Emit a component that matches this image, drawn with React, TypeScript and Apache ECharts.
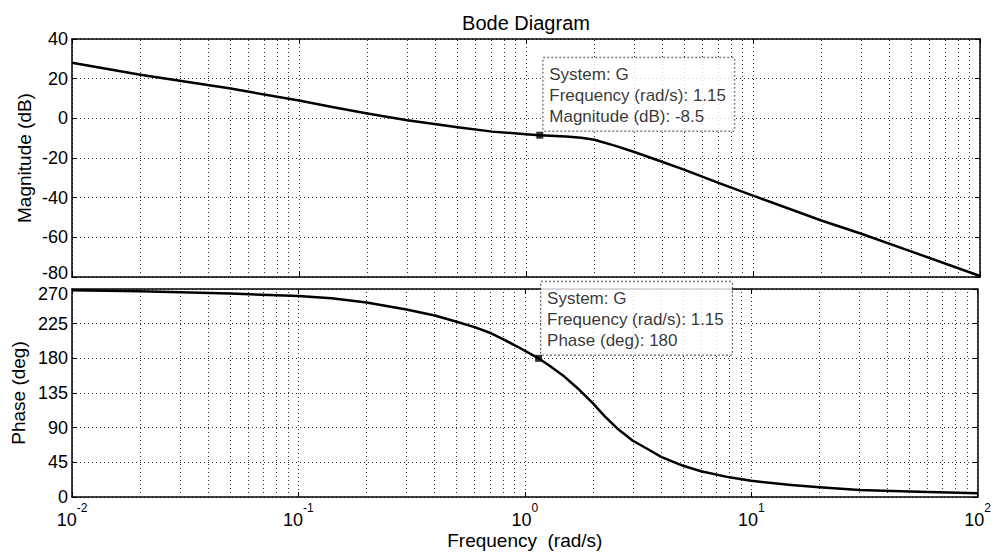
import React, { useEffect, useRef } from 'react';
import * as echarts from 'echarts';

// ---- data ----
const magFreq = [0.01, 0.02, 0.05, 0.1, 0.14, 0.2, 0.3, 0.5, 0.71, 1.0, 1.15, 1.5, 1.75, 2.0, 2.5, 3.0, 4.0, 5.0, 7.0, 10, 20, 30, 50, 100];
const magDb = [28, 22, 15, 9, 5.7, 2.4, -1, -4.5, -6.7, -8, -8.5, -9.1, -9.8, -10.8, -14, -17, -22, -26, -32.4, -39, -51.5, -58.2, -67.2, -79.5];

const phaseFreq = [0.01, 0.02, 0.05, 0.1, 0.14, 0.2, 0.3, 0.4, 0.5, 0.6, 0.71, 0.8, 0.93, 1.15, 1.3, 1.5, 1.75, 2.0, 2.25, 2.56, 3.0, 3.5, 4.0, 5.0, 6.0, 8.0, 10, 15, 20, 30, 50, 100];
const phaseDeg = [268.5, 267, 264, 261, 258, 252.5, 243.5, 235.5, 227.5, 220.5, 212.5, 205, 195, 180, 169.5, 156, 138.5, 121.5, 105, 89, 73, 62, 52, 40.5, 33.5, 25.5, 21, 15.6, 12.5, 9, 7, 5];

const minorGridFreqs = [
  0.02, 0.03, 0.04, 0.05, 0.06, 0.07, 0.08, 0.09,
  0.2, 0.3, 0.4, 0.5, 0.6, 0.7, 0.8, 0.9,
  2, 3, 4, 5, 6, 7, 8, 9,
  20, 30, 40, 50, 60, 70, 80, 90,
];

const tipSystem = 'G';
const tipFreq = 1.15;
const tipMag = -8.5;
const tipPhase = 180;

const magTicks = { min: -80, max: 40, interval: 20 };
const phaseTicks = { min: 0, max: 270, interval: 45 };
const freqRange = { min: 0.01, max: 100 };

const titleText = 'Bode Diagram';
const xName = 'Frequency  (rad/s)';
const magName = 'Magnitude (dB)';
const phaseName = 'Phase (deg)';

// ---- styling ----
const FONT = '"Liberation Sans", Arial, Helvetica, sans-serif';
const dotted = { color: '#333', width: 1, type: [1, 3] as number[] };
const frameLine = { lineStyle: { color: '#000', width: 1.5 } };
const inTick = { show: true, inside: true, length: 5, lineStyle: { color: '#000', width: 1 } };
const tickFont = { fontFamily: FONT, fontSize: 18, color: '#000' };

function logX(gridIndex: number, position: 'top' | 'bottom', labels: boolean, name?: string) {
  return {
    type: 'log',
    logBase: 10,
    gridIndex,
    position,
    min: freqRange.min,
    max: freqRange.max,
    axisLine: { show: true, onZero: false, ...frameLine },
    axisTick: inTick,
    splitLine: { show: position === 'bottom', lineStyle: dotted },
    minorTick: { show: false },
    name: name || '',
    nameLocation: 'middle',
    nameGap: 34,
    nameMoveOverlap: false,
    nameTextStyle: { fontFamily: FONT, fontSize: 19, color: '#000' },
    axisLabel: labels
      ? {
          show: true,
          margin: 5,
          formatter: (v: number) => `{b|10}{s|${Math.round(Math.log10(v))}}`,
          rich: {
            b: { ...tickFont },
            s: { fontFamily: FONT, fontSize: 12, color: '#000', padding: [0, 0, 23, 0] },
          },
        }
      : { show: false },
  };
}

function valY(
  gridIndex: number,
  position: 'left' | 'right',
  t: { min: number; max: number; interval: number },
  name: string,
  nameGap: number,
  edgeShift: 'min' | 'max',
) {
  const left = position === 'left';
  return {
    type: 'value',
    gridIndex,
    position,
    min: t.min,
    max: t.max,
    interval: t.interval,
    axisLine: { show: true, onZero: false, ...frameLine },
    axisTick: inTick,
    splitLine: { show: left, lineStyle: dotted },
    axisLabel: left
      ? {
          show: true,
          margin: 4,
          ...tickFont,
          formatter: (v: number) => {
            if (edgeShift === 'min' && v === t.min) return `{up|${v}}`;
            if (edgeShift === 'max' && v === t.max) return `{dn|${v}}`;
            return `${v}`;
          },
          rich: {
            up: { ...tickFont, padding: [0, 0, 9, 0] },
            dn: { ...tickFont, padding: [9, 0, 0, 0] },
          },
        }
      : { show: false },
    name: left ? name : '',
    nameLocation: 'middle',
    nameGap,
    nameMoveOverlap: false,
    nameTextStyle: { fontFamily: FONT, fontSize: 19, color: '#000' },
  };
}

const minorMarkLine = {
  silent: true,
  symbol: ['none', 'none'],
  z: 1,
  label: { show: false },
  emphasis: { disabled: true },
  lineStyle: dotted,
  data: minorGridFreqs.map((f) => ({ xAxis: f })),
};

const tipLabel = (text: string, offset: number[]) => ({
  show: true,
  position: offset,
  formatter: text,
  fontFamily: FONT,
  fontSize: 17,
  lineHeight: 21,
  color: '#000',
  align: 'left',
  verticalAlign: 'top',
  width: 180,
  backgroundColor: '#fff',
  borderColor: '#333',
  borderWidth: 1,
  borderType: 'dotted',
  padding: [6, 5, 4, 6],
});

const option = {
  animation: false,
  backgroundColor: '#fff',
  grid: [
    { left: 72, top: 39, width: 908, height: 238, containLabel: false },
    { left: 72, top: 289, width: 908, height: 208, containLabel: false },
  ],
  xAxis: [
    logX(0, 'bottom', false),
    logX(0, 'top', false),
    logX(1, 'bottom', true, xName),
    logX(1, 'top', false),
  ],
  yAxis: [
    valY(0, 'left', magTicks, magName, 38, 'min'),
    valY(0, 'right', magTicks, '', 0, 'min'),
    valY(1, 'left', phaseTicks, phaseName, 44, 'max'),
    valY(1, 'right', phaseTicks, '', 0, 'max'),
  ],
  graphic: [
    {
      type: 'text',
      x: 526,
      y: 23,
      style: { text: titleText, fontFamily: FONT, fontSize: 20, fill: '#000', textAlign: 'center', textVerticalAlign: 'middle' },
    },
  ],
  series: [
    {
      name: 'mag',
      type: 'line',
      xAxisIndex: 0,
      yAxisIndex: 0,
      z: 3,
      showSymbol: false,
      smooth: false,
      lineStyle: { color: '#000', width: 2.5, join: 'round' },
      data: magFreq.map((f, i) => [f, magDb[i]]),
      markLine: minorMarkLine,
    },
    {
      name: 'phase',
      type: 'line',
      xAxisIndex: 2,
      yAxisIndex: 2,
      z: 3,
      showSymbol: false,
      smooth: false,
      lineStyle: { color: '#000', width: 2.5, join: 'round' },
      data: phaseFreq.map((f, i) => [f, phaseDeg[i]]),
      markLine: minorMarkLine,
    },
    {
      name: 'magTip',
      type: 'scatter',
      xAxisIndex: 0,
      yAxisIndex: 0,
      z: 10,
      symbol: 'rect',
      symbolSize: 7,
      itemStyle: { color: '#000' },
      label: tipLabel(`System: ${tipSystem}\nFrequency (rad/s): ${tipFreq}\nMagnitude (dB): ${tipMag}`, [7, -74]),
      data: [[tipFreq, tipMag]],
    },
    {
      name: 'phaseTip',
      type: 'scatter',
      xAxisIndex: 2,
      yAxisIndex: 2,
      z: 10,
      symbol: 'rect',
      symbolSize: 7,
      itemStyle: { color: '#000' },
      label: tipLabel(`System: ${tipSystem}\nFrequency (rad/s): ${tipFreq}\nPhase (deg): ${tipPhase}`, [6, -73]),
      data: [[tipFreq, tipPhase]],
    },
  ],
};

export default function App() {
  const ref = useRef<HTMLDivElement>(null);
  useEffect(() => {
    if (!ref.current) return;
    const chart = echarts.init(ref.current, null, { renderer: 'svg' });
    chart.setOption(option as any);
    return () => chart.dispose();
  }, []);
  return (
    <div
      ref={ref}
      style={{ position: 'fixed', left: 0, top: 0, width: 994, height: 558, background: '#fff' }}
    />
  );
}
